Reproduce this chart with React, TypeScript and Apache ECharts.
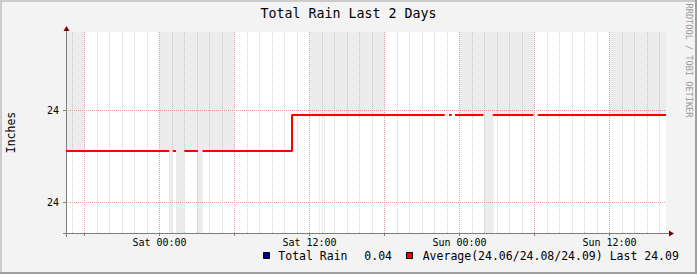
import React, { useEffect, useRef } from "react";
import * as echarts from "echarts";

const TITLE = "Total Rain Last 2 Days";
const Y_AXIS_NAME = "Inches";
const WATERMARK = "RRDTOOL / TOBI OETIKER";
const FONT = "'DejaVu Sans Mono', monospace";

// x values are hours relative to Sat 00:00
const X_MIN = -7.48;
const X_MAX = 40.52;
const Y_MIN = 23.96685;
const Y_MAX = 24.18533;

const xLabelHours = [0, 12, 24, 36];
const xLabelTexts = ["Sat 00:00", "Sat 12:00", "Sun 00:00", "Sun 12:00"];
const xMajorHours = [-6, 0, 6, 12, 18, 24, 30, 36];
const xMinorHours = [
  -7, -5, -4, -3, -2, -1, 1, 2, 3, 4, 5, 7, 8, 9, 10, 11, 13, 14, 15, 16, 17, 19, 20, 21, 22, 23,
  25, 26, 27, 28, 29, 31, 32, 33, 34, 35, 37, 38, 39, 40,
];
const yTickValues = [24.0, 24.1];

// Average series (null = unknown / gap)
const avgHours = [
  -7.48, 0.776, 0.92, 1.056, 1.32, 1.65, 1.984, 3.08, 3.26, 3.44, 10.6, 10.6, 22.82, 23.0, 23.16,
  23.38, 23.5, 23.64, 25.92, 26.3, 26.66, 29.92, 30.1, 30.26, 40.52,
];
const avgValues: (number | null)[] = [
  24.056, 24.056, null, 24.056, 24.056, null, 24.056, 24.056, null, 24.056, 24.056, 24.095, 24.095,
  null, 24.095, 24.095, null, 24.095, 24.095, null, 24.095, 24.095, null, 24.095, 24.095,
];

// shaded bands above the line
const bandStartHours = [-7.48, 0, 12, 24, 36];
const bandEndHours = [-6, 6, 18, 30, 40.52];
const bandLevels = [24.056, 24.056, 24.095, 24.095, 24.095];

// unknown-data columns below the line
const unknownStartHours = [0.76, 1.32, 3.02, 12.76, 13.16, 25.98];
const unknownEndHours = [1.02, 1.98, 3.46, 12.84, 13.24, 26.74];
const unknownLevels = [24.056, 24.056, 24.056, 24.095, 24.095, 24.095];

// legend
const totalRainName = "Total Rain";
const totalRainValue = "0.04";
const avgMin = "24.06";
const avgAvg = "24.08";
const avgMax = "24.09";
const avgLast = "24.09";

const AXIS_COLOR = "#7f7f7f";
const MAJOR_GRID = "#e6a3a3";
const MINOR_GRID = "#d2d2d2";

export default function App() {
  const ref = useRef<HTMLDivElement>(null);
  useEffect(() => {
    if (!ref.current) return;
    const chart = echarts.init(ref.current, undefined, { renderer: "svg" });

    const markData: any[] = [];
    bandStartHours.forEach((s, i) => {
      markData.push([
        { xAxis: s, yAxis: bandLevels[i] },
        { xAxis: bandEndHours[i], yAxis: Y_MAX },
      ]);
    });
    unknownStartHours.forEach((s, i) => {
      markData.push([
        { xAxis: s, yAxis: Y_MIN },
        { xAxis: unknownEndHours[i], yAxis: unknownLevels[i] },
      ]);
    });

    chart.setOption({
      animation: false,
      backgroundColor: "#f3f3f3",
      grid: {
        left: 66,
        top: 32,
        width: 600,
        height: 201,
        show: true,
        backgroundColor: "#ffffff",
        borderWidth: 0,
      },
      xAxis: [
        {
          type: "value",
          min: X_MIN,
          max: X_MAX,
          position: "bottom",
          axisLine: { show: false },
          axisTick: { show: false, customValues: xMinorHours },
          axisLabel: { show: false },
          splitLine: { show: true, lineStyle: { color: MINOR_GRID, type: [1, 1], width: 1 } },
          z: 0,
        },
        {
          type: "value",
          min: X_MIN,
          max: X_MAX,
          position: "bottom",
          axisLine: { show: true, onZero: false, lineStyle: { color: AXIS_COLOR, width: 1 } },
          axisTick: { show: true, customValues: xMajorHours, length: 3, lineStyle: { color: AXIS_COLOR } },
          axisLabel: {
            customValues: xLabelHours,
            formatter: (v: number) => {
              const i = xLabelHours.findIndex((h) => Math.abs(h - v) < 1e-6);
              return i >= 0 ? xLabelTexts[i] : "";
            },
            fontFamily: FONT,
            fontSize: 10,
            color: "#000",
            margin: 4,
          },
          splitLine: { show: true, lineStyle: { color: MAJOR_GRID, type: [1, 1], width: 1 } },
          z: 1,
        },
      ],
      yAxis: {
        type: "value",
        min: Y_MIN,
        max: Y_MAX,
        axisLine: { show: true, onZero: false, lineStyle: { color: AXIS_COLOR, width: 1 } },
        axisTick: { show: true, customValues: yTickValues, length: 3, lineStyle: { color: AXIS_COLOR } },
        axisLabel: {
          customValues: yTickValues,
          formatter: (v: number) => v.toFixed(0),
          fontFamily: FONT,
          fontSize: 10,
          color: "#000",
          margin: 7,
        },
        splitLine: { show: true, lineStyle: { color: MAJOR_GRID, type: [1, 1], width: 1 } },
        z: 1,
      },
      series: [
        {
          type: "line",
          name: "Average",
          xAxisIndex: 1,
          data: avgHours.map((h, i) => [h, avgValues[i] === null ? "-" : avgValues[i]]),
          showSymbol: false,
          symbol: "none",
          connectNulls: false,
          lineStyle: { color: "#ff0000", width: 2, cap: "butt" },
          z: 3,
          markArea: {
            silent: true,
            label: { show: false },
            itemStyle: { color: "rgba(0,0,0,0.075)", borderWidth: 0 },
            emphasis: { disabled: true },
            data: markData,
          },
        },
      ],
      graphic: [
        { type: "rect", shape: { x: 0, y: 0, width: 697, height: 2 }, style: { fill: "#cbcbcb" }, silent: true },
        { type: "rect", shape: { x: 0, y: 0, width: 2, height: 274 }, style: { fill: "#cbcbcb" }, silent: true },
        { type: "rect", shape: { x: 0, y: 272, width: 697, height: 2 }, style: { fill: "#9f9f9f" }, silent: true },
        { type: "rect", shape: { x: 695, y: 0, width: 2, height: 274 }, style: { fill: "#9f9f9f" }, silent: true },
        {
          type: "text",
          x: 348.5,
          y: 13.5,
          style: { text: TITLE, font: `13.3px ${FONT}`, fill: "#000", align: "center", verticalAlign: "middle" },
        },
        {
          type: "text",
          x: 10.5,
          y: 132.5,
          rotation: Math.PI / 2,
          style: { text: Y_AXIS_NAME, font: `11.5px ${FONT}`, fill: "#000", align: "center", verticalAlign: "middle" },
        },
        {
          type: "text",
          x: 688.5,
          y: 60.5,
          rotation: -Math.PI / 2,
          style: { text: WATERMARK, font: `8.6px ${FONT}`, fill: "#9a9a9a", align: "center", verticalAlign: "middle" },
        },
        // axis extensions and arrows
        { type: "line", shape: { x1: 63, y1: 233.5, x2: 670, y2: 233.5 }, style: { stroke: AXIS_COLOR, lineWidth: 1 } },
        { type: "line", shape: { x1: 66.5, y1: 30, x2: 66.5, y2: 237 }, style: { stroke: AXIS_COLOR, lineWidth: 1 } },
        { type: "polygon", shape: { points: [[63.5, 31], [69.5, 31], [66.5, 26]] }, style: { fill: "#7f0000" } },
        { type: "polygon", shape: { points: [[669, 230.5], [669, 236.5], [674, 233.5]] }, style: { fill: "#7f0000" } },
        // legend
        {
          type: "rect",
          shape: { x: 263.5, y: 252.5, width: 6, height: 6 },
          style: { fill: "#000090", stroke: "#000", lineWidth: 1 },
        },
        {
          type: "text",
          x: 278.3,
          y: 256,
          style: { text: totalRainName, font: `11.5px ${FONT}`, fill: "#000", verticalAlign: "middle" },
        },
        {
          type: "text",
          x: 364.3,
          y: 256,
          style: { text: totalRainValue, font: `11.5px ${FONT}`, fill: "#000", verticalAlign: "middle" },
        },
        {
          type: "rect",
          shape: { x: 406.5, y: 252.5, width: 6, height: 6 },
          style: { fill: "#ff0000", stroke: "#000", lineWidth: 1 },
        },
        {
          type: "text",
          x: 422.7,
          y: 256,
          style: {
            text: `Average(${avgMin}/${avgAvg}/${avgMax}) Last ${avgLast}`,
            font: `11.5px ${FONT}`,
            fill: "#000",
            verticalAlign: "middle",
          },
        },
      ],
    });
    return () => chart.dispose();
  }, []);
  return <div ref={ref} style={{ position: "absolute", left: 0, top: 0, width: 697, height: 274 }} />;
}
